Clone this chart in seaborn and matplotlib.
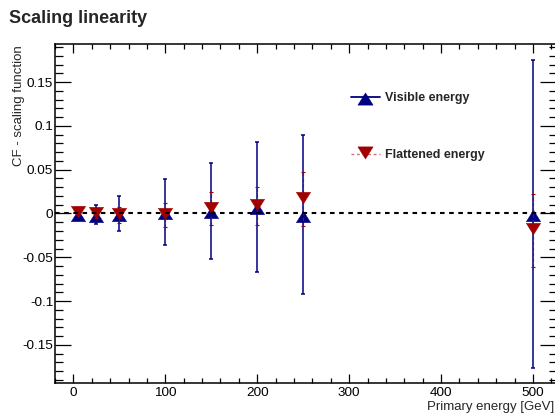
import numpy as np
import pandas as pd
import matplotlib
matplotlib.use("Agg")
import matplotlib.pyplot as plt
from matplotlib.lines import Line2D
from matplotlib.ticker import MultipleLocator, FuncFormatter
import seaborn as sns

# values
energy = [5, 25, 50, 100, 150, 200, 250, 500]
visible = [-0.001, -0.0013, -0.0002, 0.0017, 0.0023, 0.0072, -0.0013, -0.0003]
visible_err = [0.003, 0.0105, 0.020, 0.0379, 0.0548, 0.0742, 0.0904, 0.1759]
flattened = [0.0005, -0.0008, -0.0016, -0.0015, 0.0055, 0.0086, 0.0166, -0.0193]
flattened_err = [0.002, 0.004, 0.009, 0.0137, 0.0188, 0.0215, 0.031, 0.042]

labels = ["Visible energy", "Flattened energy"]
title = "Scaling linearity"
xlabel = "Primary energy [GeV]"
ylabel = "CF - scaling function"

df = pd.DataFrame({
    "energy": energy * 2,
    "value": visible + flattened,
    "err": visible_err + flattened_err,
    "series": [labels[0]] * len(energy) + [labels[1]] * len(energy),
})

sns.set_theme(style="ticks")
plt.rcParams["font.family"] = ["Liberation Sans", "DejaVu Sans"]
plt.rcParams["axes.unicode_minus"] = False

blue = "#000080"
red = "#a00000"

# ROOT-like triangles (slightly flattened, offset from the point)
tri_up = [(-1, -1.0), (1, -1.0), (0, 0.6), (-1, -1.0)]
tri_down = [(-1, 1.0), (1, 1.0), (0, -0.6), (-1, 1.0)]

fig = plt.figure(figsize=(5.55, 4.19), dpi=100)
ax = fig.add_axes([55 / 555, 36 / 419, 501 / 555, 339 / 419])

vis = df[df.series == labels[0]]
flat = df[df.series == labels[1]]

eb = ax.errorbar(vis.energy, vis.value, yerr=vis.err, fmt="none",
                 ecolor=blue, elinewidth=1.1, capsize=1.6, capthick=1.1, zorder=2)
sns.scatterplot(data=vis, x="energy", y="value", marker=tri_up, s=108,
                color=blue, edgecolor=blue, linewidth=0.3, ax=ax, zorder=3, legend=False)

eb2 = ax.errorbar(flat.energy, flat.value, yerr=flat.err, fmt="none",
                  ecolor=red, elinewidth=0.8, capsize=1.4, capthick=0.8, zorder=4)
eb2[2][0].set_linestyle((0, (3, 2)))
sns.scatterplot(data=flat, x="energy", y="value", marker=tri_down, s=108,
                color=red, edgecolor=red, linewidth=0.3, ax=ax, zorder=5, legend=False)

ax.axhline(0, color="black", ls=(0, (2.2, 2.2)), lw=1.5, zorder=6)

ax.set_xlim(-20, 525)
ax.set_ylim(-0.1935, 0.1935)
ax.set_xlabel("")
ax.set_ylabel("")

ax.xaxis.set_major_locator(MultipleLocator(100))
ax.xaxis.set_minor_locator(MultipleLocator(20))
ax.yaxis.set_major_locator(MultipleLocator(0.05))
ax.yaxis.set_minor_locator(MultipleLocator(0.01))
ax.yaxis.set_major_formatter(FuncFormatter(lambda v, p: "0" if abs(v) < 1e-9 else "%g" % round(v, 3)))

ax.tick_params(axis="both", which="both", direction="in", top=True, right=True,
               colors="black", labelsize=9.7, width=0.9)
ax.tick_params(axis="x", which="major", length=6.8, pad=3)
ax.tick_params(axis="x", which="minor", length=3.6)
ax.tick_params(axis="y", which="major", length=11.3, pad=1.2)
ax.tick_params(axis="y", which="minor", length=5.4)
for s in ax.spines.values():
    s.set_linewidth(1.1)
    s.set_color("black")

handles = [
    Line2D([], [], color=blue, lw=1.3, marker=tri_up, markersize=11, markeredgewidth=0.3),
    Line2D([], [], color="#d07070", lw=1.0, ls=(0, (2, 2)), marker=tri_down,
           markersize=11, markerfacecolor=red, markeredgecolor=red, markeredgewidth=0.3),
]
ax.legend(handles, labels, loc="upper left", bbox_to_anchor=(0.591, 0.858),
          frameon=False, borderpad=0, borderaxespad=0, handlelength=2.3,
          handletextpad=0.4, labelspacing=3.6, prop={"weight": "bold", "size": 9})

fig.text(9 / 555, 1 - 22.7 / 419, title, fontsize=13, fontweight="bold", ha="left", va="baseline")
fig.text(19.5 / 555, 1 - 45 / 419, ylabel, rotation=90, fontsize=9.5, ha="center", va="top")
fig.text(554 / 555, 1 - 407 / 419, xlabel, fontsize=9.5, ha="right", va="center")

fig.savefig("out.png", dpi=100)
